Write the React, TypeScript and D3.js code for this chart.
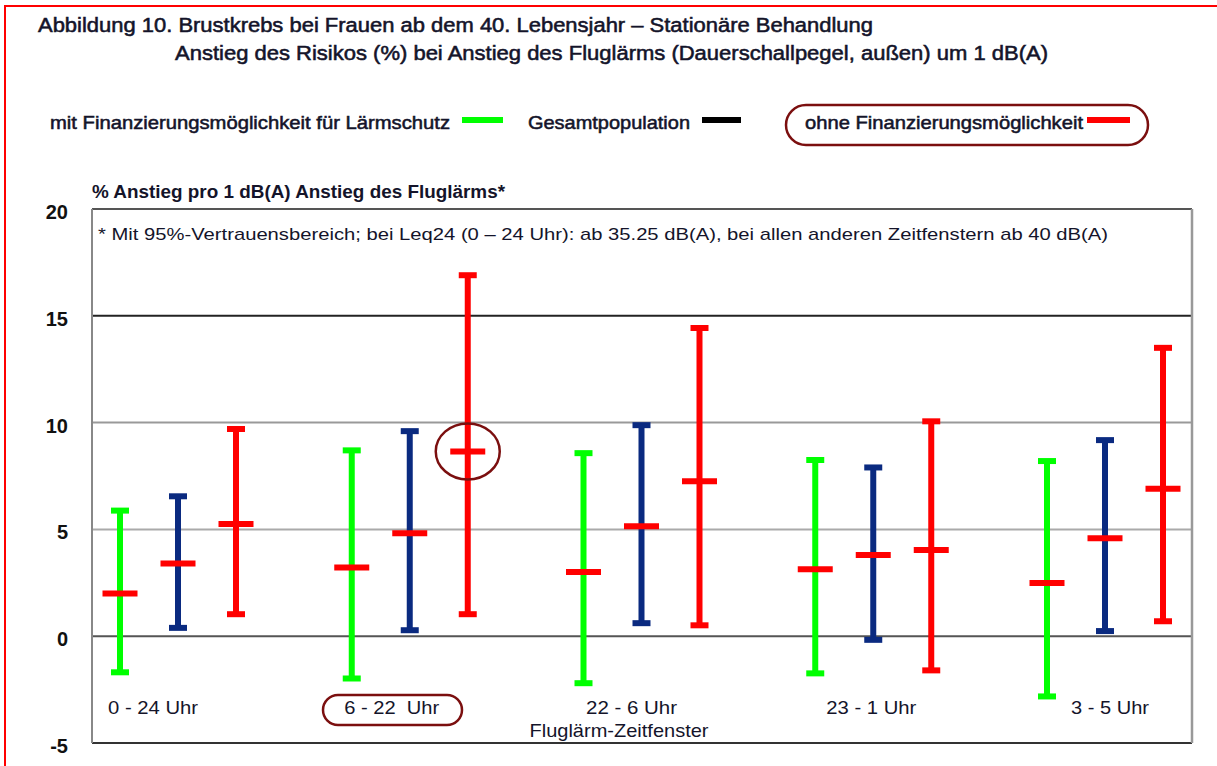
import React from "react";
import * as d3 from "d3";

const categories = ["0 - 24 Uhr", "6 - 22  Uhr", "22 - 6 Uhr", "23 - 1 Uhr", "3 - 5 Uhr"];
const seriesNames = ["mit Finanzierungsmöglichkeit für Lärmschutz", "Gesamtpopulation", "ohne Finanzierungsmöglichkeit"];
const greenEst = [2.0, 3.22, 3.0, 3.13, 2.49];
const greenLow = [-1.69, -1.98, -2.2, -1.74, -2.82];
const greenHigh = [5.88, 8.7, 8.57, 8.25, 8.2];
const blueEst = [3.4, 4.82, 5.15, 3.8, 4.59];
const blueLow = [0.39, 0.28, 0.61, -0.17, 0.24];
const blueHigh = [6.55, 9.6, 9.88, 7.9, 9.18];
const redEst = [5.25, 8.65, 7.25, 4.03, 6.9];
const redLow = [1.03, 1.03, 0.51, -1.6, 0.7];
const redHigh = [9.7, 16.9, 14.43, 10.06, 13.5];
const yTicks = [-5, 0, 5, 10, 15, 20];

const FONT = "'Liberation Sans', Arial, sans-serif";
const TXT = "#14142a";

export default function App() {
  const W = 1217, H = 766;
  const left = 92, right = 1192, top = 209, bottom = 743;
  const y = d3.scaleLinear().domain([-5, 20]).range([bottom, top]);
  const x = d3.scalePoint<string>().domain(categories).range([178, 1105]);
  const off = 58;
  const series = [
    { color: "#00ff00", est: greenEst, low: greenLow, high: greenHigh, dx: -off },
    { color: "#0a2a80", est: blueEst, low: blueLow, high: blueHigh, dx: 0 },
    { color: "#ff0000", est: redEst, low: redLow, high: redHigh, dx: off },
  ];
  const gridStyle: Record<number, { c: string; w: number }> = {
    15: { c: "#222", w: 2 },
    10: { c: "#999", w: 2 },
    5: { c: "#aaa", w: 2 },
    0: { c: "#555", w: 2 },
  };
  const labelDx = [-25, -18, -10, -2, 5];
  const labelLen = [90, 95, 91, 90, 78];
  const medium = { stroke: TXT, strokeWidth: 0.55 };

  return (
    <svg width={W} height={H} style={{ position: "absolute", left: 0, top: 0, background: "#fff" }} fontFamily={FONT}>
      <rect x={0} y={0} width={W} height={H} fill="#fff" />
      <path d={`M5,${H} L5,6 L${W},6`} fill="none" stroke="#ff0000" strokeWidth={2} />

      {/* Title */}
      <text x={38} y={32} fontSize={20.5} fill={TXT} {...medium} textLength={835} lengthAdjust="spacingAndGlyphs">
        Abbildung 10. Brustkrebs bei Frauen ab dem 40. Lebensjahr – Stationäre Behandlung
      </text>
      <text x={175} y={60} fontSize={20.5} fill={TXT} {...medium} textLength={873} lengthAdjust="spacingAndGlyphs">
        Anstieg des Risikos (%) bei Anstieg des Fluglärms (Dauerschallpegel, außen) um 1 dB(A)
      </text>

      {/* Legend */}
      <text x={50} y={129} fontSize={19} fill={TXT} {...medium} textLength={400} lengthAdjust="spacingAndGlyphs">{seriesNames[0]}</text>
      <line x1={462} x2={503} y1={120} y2={120} stroke="#00ff00" strokeWidth={6} />
      <text x={528} y={129} fontSize={19} fill={TXT} {...medium} textLength={162} lengthAdjust="spacingAndGlyphs">{seriesNames[1]}</text>
      <line x1={702} x2={741} y1={120} y2={120} stroke="#000" strokeWidth={6} />
      <rect x={786} y={105} width={362} height={40} rx={20} ry={20} fill="none" stroke="#7b0f0f" strokeWidth={2.5} />
      <text x={805} y={129} fontSize={19} fill={TXT} {...medium} textLength={278} lengthAdjust="spacingAndGlyphs">{seriesNames[2]}</text>
      <line x1={1087} x2={1130} y1={120} y2={120} stroke="#ff0000" strokeWidth={6} />

      {/* Y title */}
      <text x={92} y={198} fontSize={18} fontWeight="bold" fill={TXT} textLength={413} lengthAdjust="spacingAndGlyphs">
        % Anstieg pro 1 dB(A) Anstieg des Fluglärms*
      </text>

      {/* Grid */}
      {yTicks.filter((t) => gridStyle[t]).map((t) => (
        <line key={t} x1={left} x2={right} y1={y(t)} y2={y(t)} stroke={gridStyle[t].c} strokeWidth={gridStyle[t].w} />
      ))}
      {/* Frame */}
      <line x1={left} x2={right} y1={top} y2={top} stroke="#555" strokeWidth={2} />
      <line x1={left} x2={right} y1={bottom} y2={bottom} stroke="#333" strokeWidth={2} />
      <line x1={left} x2={left} y1={top} y2={bottom} stroke="#888" strokeWidth={2} />
      <line x1={right} x2={right} y1={top} y2={bottom} stroke="#999" strokeWidth={2.5} />

      {/* Y tick labels */}
      {yTicks.map((t) => (
        <text key={t} x={68} y={y(t) + 3} fontSize={20} fontWeight="bold" fill="#111" textAnchor="end" dominantBaseline="central">
          {t}
        </text>
      ))}

      {/* Note */}
      <text x={98} y={240} fontSize={17} fill={TXT} textLength={1010} lengthAdjust="spacingAndGlyphs">
        * Mit 95%-Vertrauensbereich; bei Leq24 (0 – 24 Uhr): ab 35.25 dB(A), bei allen anderen Zeitfenstern ab 40 dB(A)
      </text>

      {/* Error bars */}
      {series.map((s, si) => (
        <g key={si}>
          {categories.map((c, i) => {
            const cx = (x(c) as number) + s.dx;
            return (
              <g key={c}>
                <line x1={cx} x2={cx} y1={y(s.low[i])} y2={y(s.high[i])} stroke={s.color} strokeWidth={6} />
                <line x1={cx - 9} x2={cx + 9} y1={y(s.high[i])} y2={y(s.high[i])} stroke={s.color} strokeWidth={6} />
                <line x1={cx - 9} x2={cx + 9} y1={y(s.low[i])} y2={y(s.low[i])} stroke={s.color} strokeWidth={6} />
                <line x1={cx - 17.5} x2={cx + 17.5} y1={y(s.est[i])} y2={y(s.est[i])} stroke="#ff0000" strokeWidth={6} />
              </g>
            );
          })}
        </g>
      ))}

      {/* Highlight circle */}
      <ellipse cx={(x(categories[1]) as number) + off} cy={y(redEst[1])} rx={32} ry={28} fill="none" stroke="#7b0f0f" strokeWidth={2.5} />

      {/* Category labels */}
      {categories.map((c, i) => (
        <text key={c} x={(x(c) as number) + labelDx[i]} y={714} fontSize={19} fill={TXT} textAnchor="middle" textLength={labelLen[i]} lengthAdjust="spacingAndGlyphs" style={{ whiteSpace: "pre" }}>
          {c}
        </text>
      ))}
      <rect x={323} y={695} width={139} height={30} rx={15} ry={15} fill="none" stroke="#7b0f0f" strokeWidth={2.5} />
      <text x={619} y={737} fontSize={19} fill={TXT} textAnchor="middle" textLength={179} lengthAdjust="spacingAndGlyphs">
        Fluglärm-Zeitfenster
      </text>
    </svg>
  );
}
